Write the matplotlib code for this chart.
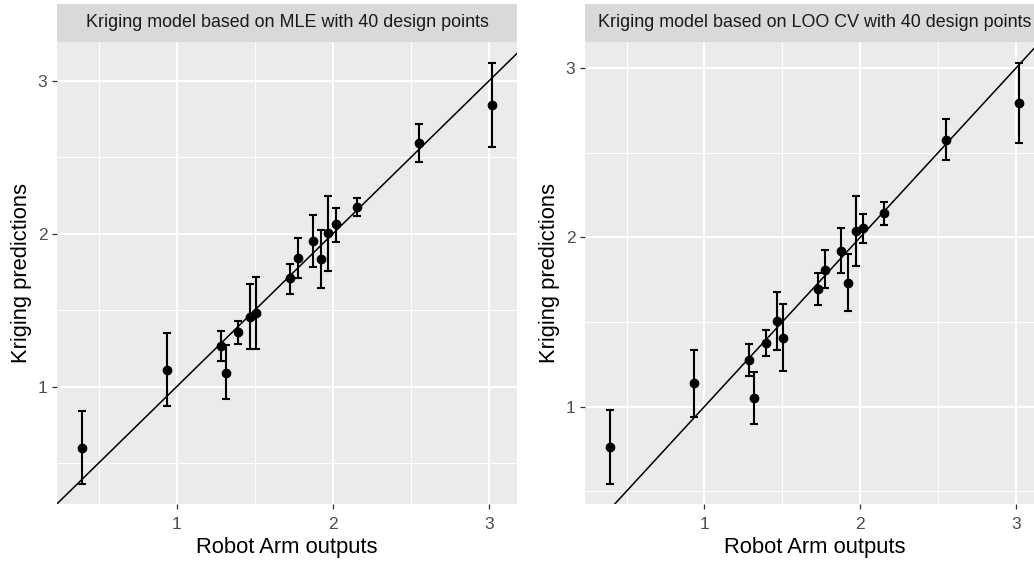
import matplotlib
matplotlib.use("Agg")
import matplotlib.pyplot as plt
import numpy as np

plt.rcParams["font.family"] = ["Liberation Sans", "DejaVu Sans"]

# Robot arm outputs (same design points in both panels)
robot_out = [0.391, 0.936, 1.284, 1.316, 1.393, 1.468, 1.506, 1.728,
             1.776, 1.876, 1.923, 1.972, 2.021, 2.154, 2.549, 3.019]

# Kriging (MLE) predictions with lower / upper error bounds
mle_pred = [0.60, 1.11, 1.268, 1.092, 1.357, 1.458, 1.481, 1.709,
            1.843, 1.951, 1.838, 2.002, 2.061, 2.178, 2.594, 2.842]
mle_lo = [0.364, 0.87, 1.169, 0.918, 1.28, 1.246, 1.246, 1.604,
          1.709, 1.78, 1.646, 1.756, 1.949, 2.117, 2.467, 2.570]
mle_hi = [0.84, 1.35, 1.366, 1.27, 1.432, 1.674, 1.716, 1.805,
          1.972, 2.12, 2.026, 2.244, 2.171, 2.237, 2.718, 3.117]

# Kriging (LOO CV) predictions with lower / upper error bounds
loo_pred = [0.763, 1.138, 1.272, 1.049, 1.373, 1.505, 1.405, 1.696,
            1.808, 1.918, 1.732, 2.038, 2.054, 2.141, 2.576, 2.792]
loo_lo = [0.544, 0.939, 1.18, 0.894, 1.297, 1.335, 1.208, 1.60,
          1.702, 1.787, 1.566, 1.83, 1.966, 2.071, 2.457, 2.559]
loo_hi = [0.981, 1.335, 1.367, 1.204, 1.452, 1.674, 1.604, 1.787,
          1.924, 2.053, 1.901, 2.245, 2.139, 2.211, 2.699, 3.028]

titles = ["Kriging model based on MLE with 40 design points",
          "Kriging model based on LOO CV with 40 design points"]

W, H = 1034, 561
fig = plt.figure(figsize=(W / 100, H / 100), dpi=100)


def panel(x0, x1, pred, lo, hi, ylim, title):
    top, bot, strip_top = 41.5, 504, 4
    ax = fig.add_axes([x0 / W, 1 - bot / H, (x1 - x0) / W, (bot - top) / H])
    ax.set_facecolor("#EBEBEB")
    for s in ax.spines.values():
        s.set_visible(False)
    ax.set_xlim(0.233, 3.18)
    ax.set_ylim(*ylim)
    ax.set_xticks([1, 2, 3])
    ax.set_yticks([1, 2, 3])
    ax.set_xticks([0.5, 1.5, 2.5], minor=True)
    ax.set_yticks([0.5, 1.5, 2.5], minor=True)
    ax.grid(which="major", color="white", lw=1.5)
    ax.grid(which="minor", color="white", lw=0.7)
    ax.set_axisbelow(True)
    ax.tick_params(which="major", length=3.6, width=0.9, color="#333333",
                   labelcolor="#4D4D4D", labelsize=12.5)
    ax.tick_params(axis="x", pad=5.5)
    ax.tick_params(axis="y", pad=3.3)
    ax.tick_params(which="minor", length=0)

    x = np.array(robot_out)
    p = np.array(pred)
    yerr = [p - np.array(lo), np.array(hi) - p]
    ax.axline((0, 0), slope=1, color="black", lw=1.1, zorder=2)
    ax.errorbar(x, p, yerr=yerr, fmt="o", color="black", ms=6,
                elinewidth=1.5, capsize=2.7, capthick=1.5, zorder=3)

    ax.set_xlabel("Robot Arm outputs", fontsize=15.8, labelpad=4)
    ax.set_ylabel("Kriging predictions", fontsize=15.8, labelpad=4)

    st = fig.add_axes([x0 / W, 1 - top / H, (x1 - x0) / W,
                       (top - strip_top) / H])
    st.set_facecolor("#D9D9D9")
    st.set_xticks([])
    st.set_yticks([])
    for s in st.spines.values():
        s.set_visible(False)
    st.text(0.5, 0.5, title, ha="center", va="center", fontsize=12.9,
            color="#1A1A1A", transform=st.transAxes)
    return ax


panel(57, 517, mle_pred, mle_lo, mle_hi, (0.232, 3.258), titles[0])
panel(585, 1044, loo_pred, loo_lo, loo_hi, (0.424, 3.157), titles[1])

fig.savefig("out.png", dpi=100)
